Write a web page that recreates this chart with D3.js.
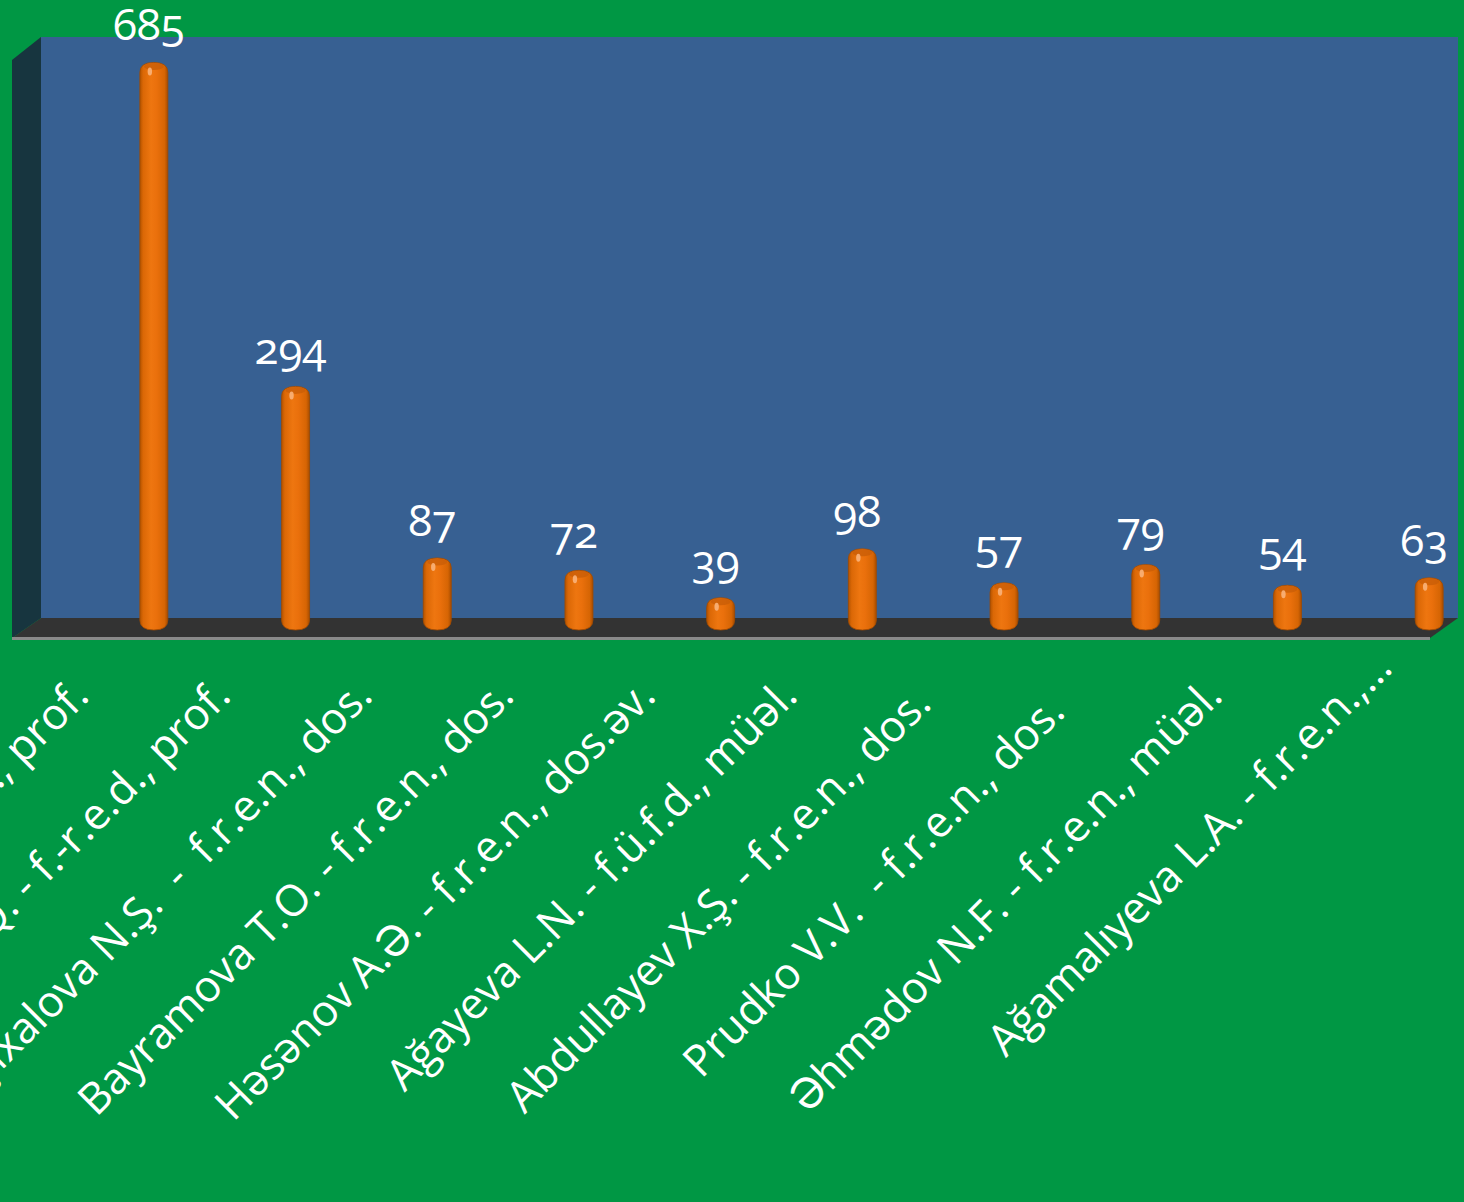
<!DOCTYPE html>
<html><head><meta charset="utf-8">
<script src="https://cdn.jsdelivr.net/npm/d3@7"></script>
<style>
html,body{margin:0;padding:0;background:#009744;overflow:hidden}
svg{display:block}
text{font-family:"Open Sans",Lato,sans-serif;fill:#fff;white-space:pre}
</style></head>
<body>
<script>
const categories = [
  "Babayev M.A. - f.r.e.d., prof.",
  "Məmmədova Ş.Q. - f.-r.e.d., prof.",
  "Şıxalova N.Ş.  -  f.r.e.n., dos.",
  "Bayramova T.O. - f.r.e.n., dos.",
  "Həsənov A.Ə. - f.r.e.n., dos.əv.",
  "Ağayeva L.N. - f.ü.f.d., müəl.",
  "Abdullayev X.Ş. - f.r.e.n., dos. ",
  "Prudko V.V.  - f.r.e.n., dos.  ",
  "Əhmədov N.F. - f.r.e.n., müəl.",
  "Ağamalıyeva L.A. - f.r.e.n.,…"
];
const values = [685, 294, 87, 72, 39, 98, 57, 79, 54, 63];

const W = 1464, H = 1202;
const svg = d3.select("body").append("svg").attr("width", W).attr("height", H);
const defs = svg.append("defs");

const grad = defs.append("linearGradient").attr("id","cyl").attr("x1","0").attr("x2","1").attr("y1","0").attr("y2","0");
[[0,"#b35300"],[0.12,"#db6806"],[0.4,"#ee7610"],[0.6,"#ea700c"],[0.88,"#d66504"],[1,"#a84d00"]]
  .forEach(([o,c])=>grad.append("stop").attr("offset",o).attr("stop-color",c));

// 3D frame
const backL = 41, backR = 1458, backT = 37, backB = 618;
const frontL = 12, frontR = 1430, frontB = 638, leftTop = 60;

svg.append("rect").attr("x",backL).attr("y",backT).attr("width",backR-backL).attr("height",backB-backT).attr("fill","#376092");
svg.append("path").attr("d",`M${frontL},${leftTop}L${backL},${backT}L${backL},${backB}L${frontL},${frontB}Z`).attr("fill","#17353f");
svg.append("path").attr("d",`M${backL},${backB}L${backR},${backB}L${frontR},${frontB}L${frontL},${frontB}Z`).attr("fill","#333333");
svg.append("rect").attr("x",frontL).attr("y",frontB-1).attr("width",frontR-frontL).attr("height",3).attr("fill","#8a8a8a");

// scales
const x = d3.scaleBand().domain(categories).range([83, 1500]).paddingInner(0).paddingOuter(0);
const y = d3.scaleLinear().domain([0, 700]).range([630, 50]);
const bw = 28, ry = 5;
const cxOf = i => x(categories[i]) + x.bandwidth()/2;

const g = svg.append("g");
const bars = g.selectAll("g.bar").data(values).join("g").attr("class","bar");
bars.append("path")
  .attr("d",(d,i)=>{
    const cx = cxOf(i);
    const l = cx - bw/2, r = cx + bw/2;
    const top = y(d), bot = y(0);
    const rt = Math.min(10, (bot-top)/3);
    return `M${l},${top+rt} Q${l},${top} ${cx},${top} Q${r},${top} ${r},${top+rt} L${r},${bot-rt} Q${r},${bot} ${cx},${bot} Q${l},${bot} ${l},${bot-rt} Z`;
  })
  .attr("fill","url(#cyl)").attr("stroke","#a24a00").attr("stroke-width",0.8);
bars.append("ellipse")
  .attr("cx",(d,i)=>cxOf(i))
  .attr("cy",d=>y(d)+ry-1)
  .attr("rx",bw/2-4).attr("ry",ry-1.5)
  .attr("fill","#c95e08").attr("opacity",0.8);
bars.append("ellipse")
  .attr("cx",(d,i)=>cxOf(i) - 4)
  .attr("cy",d=>y(d)+ry+4)
  .attr("rx",2.2).attr("ry",4)
  .attr("fill","#f9b27a").attr("opacity",0.9);

// value labels
g.selectAll("text.val").data(values).join("text").attr("class","val")
  .attr("x",(d,i)=>cxOf(i) - 5)
  .attr("y",d=>y(d)-22)
  .attr("text-anchor","middle")
  .style("font-size","44px")
  .style("font-feature-settings","'onum' 1")
  .text(d=>d);

// category labels (truncated labels overflow a little further along their line)
g.selectAll("text.cat").data(categories).join("text").attr("class","cat")
  .attr("text-anchor","end")
  .attr("transform",(d,i)=>{
    const extra = d.endsWith("…") ? 28 : 0;
    return `translate(${cxOf(i)-63+extra},${698-extra}) rotate(-45)`;
  })
  .style("font-size","43.5px")
  .text(d=>d);
</script>
</body></html>
